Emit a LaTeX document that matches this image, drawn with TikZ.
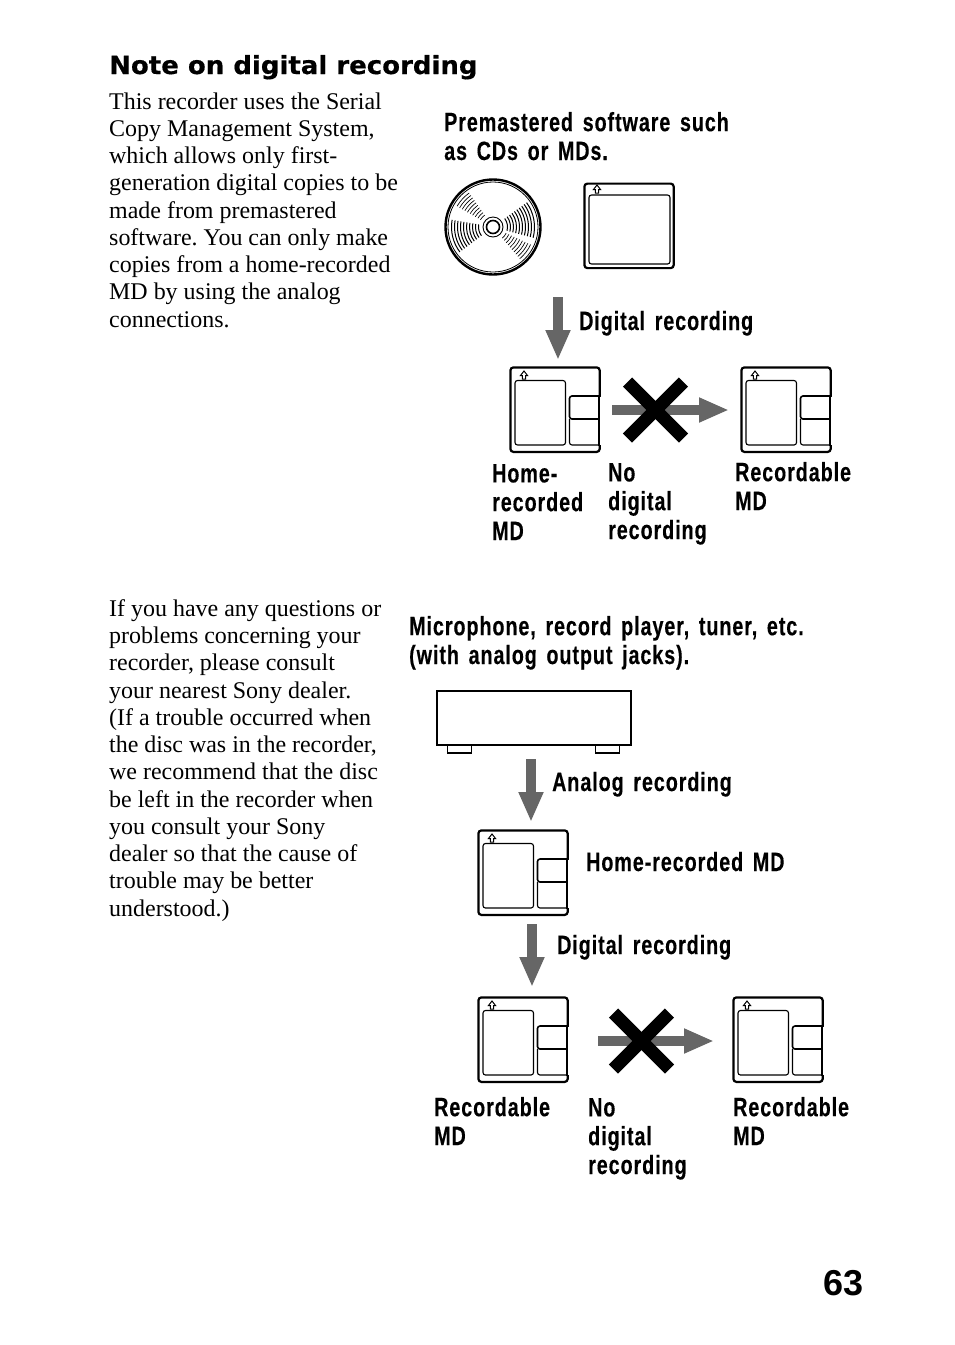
\documentclass[tikz,border=0pt]{standalone}
\usepackage{fontspec}
\usetikzlibrary{arrows.meta}
\setmainfont{Liberation Serif}
\newfontfamily\labelfont[FakeStretch=0.745,LetterSpace=3.5,FakeBold=0.25,WordSpace=1.5]{Liberation Sans Bold}
\newfontfamily\headfont[FakeStretch=1.04,FakeBold=0.5]{DejaVu Sans Bold}
\newfontfamily\pagefont{Liberation Sans Bold}
\frenchspacing
\tikzset{
  body/.style={anchor=base west,inner sep=0pt,align=left,font=\fontsize{23.95}{27.25}\selectfont,text=black},
  lab/.style={anchor=base west,inner sep=0pt,align=left,font=\labelfont\fontsize{26.5}{28.8}\selectfont,text=black},
  cardbox/.style={draw=black,line width=2.2pt,rounded corners=3pt,minimum width=89.3pt,minimum height=84.5pt,inner sep=0pt,anchor=north west},
  thinbox/.style={draw=black,line width=1.1pt,rounded corners=2.5pt},
  panebox/.style={draw=black,line width=1.6pt,rounded corners=2.5pt},
  upmark/.style={draw=black,line width=1pt,fill=white},
  blockarrow/.style={draw=arrowgray,line width=10pt,-{Triangle[length=30pt,width=23pt]}},
  crossmark/.style={draw=black,line width=13pt},
  devbox/.style={draw=black,line width=2pt,minimum width=193.5pt,minimum height=54pt,inner sep=0pt,anchor=north west},
  footbox/.style={draw=black,line width=1.5pt,minimum width=24pt,minimum height=7.5pt,inner sep=0pt,anchor=north west},
  cdrim/.style={draw=black,line width=2.4pt,circle,minimum size=95pt,inner sep=0pt},
  groove/.style={draw=black,line width=1pt},
  finegroove/.style={draw=black,line width=0.65pt}
}
\definecolor{arrowgray}{HTML}{666666}
\newcommand{\upsign}[2]{%
  \draw[upmark] (#1-3.5,#2+0.5) -- (#1,#2-4) -- (#1+3.5,#2+0.5) -- (#1+1.6,#2+0.5) -- (#1+1.6,#2+4) -- (#1-1.6,#2+4) -- (#1-1.6,#2+0.5) -- cycle;}
\newcommand{\mdcard}[3]{% name, left, top
  \node[cardbox] (#1) at (#2-0.7,#3-0.7) {};
  \upsign{#2+14}{#3+8}
  \draw[thinbox] (#2+5,#3+13.5) rectangle (#2+55.5,#3+78);
  \draw[line width=2pt,white] (#2+90.4,#3+29.5) -- (#2+90.4,#3+78);
  \draw[line width=1.1pt] (#2+89,#3+29) -- (#2+89,#3+79);
  \draw[panebox] (#2+89,#3+29) -- (#2+59.5,#3+29) -- (#2+59.5,#3+52) -- (#2+89,#3+52);
  \draw[thinbox] (#2+59.5,#3+52) -- (#2+59.5,#3+78) -- (#2+89,#3+78);
}
\newcommand{\nomove}[4]{% name prefix, x0, x1, y
  \coordinate (#1s) at (#2,#4);
  \coordinate (#1e) at (#3,#4);
  \draw[blockarrow] (#1s) -- (#1e);
  \coordinate (#1c) at (#2+43.5,#4);
  \draw[crossmark] ([shift={(-28,-28)}]#1c) -- ([shift={(28,28)}]#1c);
  \draw[crossmark] ([shift={(-28,28)}]#1c) -- ([shift={(28,-28)}]#1c);
}
\begin{document}
\begin{tikzpicture}[x=1pt,y=-1pt]
\useasboundingbox[fill=white] (0,0) rectangle (954,1345);
\node[anchor=base west,inner sep=0pt,font=\headfont\fontsize{25}{28}\selectfont] (head) at (109,74) {Note on digital recording};
\node[body] (para1) at (109,327) {This recorder uses the Serial\\Copy Management System,\\which allows only first-\\generation digital copies to be\\made from premastered\\software. You can only make\\copies from a home-recorded\\MD by using the analog\\connections.};
\node[body] (para2) at (109,916) {If you have any questions or\\problems concerning your\\recorder, please consult\\your nearest Sony dealer.\\(If a trouble occurred when\\the disc was in the recorder,\\we recommend that the disc\\be left in the recorder when\\you consult your Sony\\dealer so that the cause of\\trouble may be better\\understood.)};
\node[lab] (l1) at (444,160) {Premastered software such\\as CDs or MDs.};
\node[lab] (l2) at (579,330) {Digital recording};
\node[lab] (l3) at (492,540) {Home-\\recorded\\MD};
\node[lab] (l4) at (608,539) {No\\digital\\recording};
\node[lab] (l5) at (735,510) {Recordable\\MD};
\node[lab] (l6) at (409,664) {Microphone, record player, tuner, etc.\\(with analog output jacks).};
\node[lab] (l7) at (552,791) {Analog recording};
\node[lab] (l8) at (586,871) {Home-recorded MD};
\node[lab] (l9) at (557,954) {Digital recording};
\node[lab] (l10) at (434,1145) {Recordable\\MD};
\node[lab] (l11) at (588,1174) {No\\digital\\recording};
\node[lab] (l12) at (733,1145) {Recordable\\MD};
\node[anchor=base west,inner sep=0pt,font=\pagefont\fontsize{36}{40}\selectfont] (pg) at (823,1295) {63};
% CD
\node[cdrim] (cd) at (493,227) {};
\draw[line width=0.8pt] (cd) circle (45);
\foreach \r in {14.5,17.5,...,43} {
  \draw[groove] ([shift={(143:\r)}]cd.center) arc[start angle=143,end angle=190,radius=\r];
  \draw[groove] ([shift={(-36:\r)}]cd.center) arc[start angle=-36,end angle=15,radius=\r];
  \draw[finegroove] ([shift={(25:\r)}]cd.center) arc[start angle=25,end angle=50,radius=\r];
  \draw[finegroove] ([shift={(210:\r)}]cd.center) arc[start angle=210,end angle=235,radius=\r];
}
\draw[line width=0.9pt] (cd) circle (10);
\draw[line width=1.6pt,fill=white] (cd) circle (6.5);
% plain card
\node[cardbox] (mdp) at (583.3,182.5) {};
\upsign{597}{189}
\draw[thinbox] (589,195) rectangle (670,264);
% top group
\coordinate (a1s) at (558,297); \coordinate (a1e) at (558,360);
\draw[blockarrow] (a1s) -- (a1e);
\mdcard{md1}{510}{367}
\mdcard{md2}{741}{367}
\nomove{n1}{612}{729}{410}
% bottom group
\node[devbox] (dev) at (436.3,689.5) {};
\node[footbox] (f1) at (446.5,744.5) {};
\node[footbox] (f2) at (594.5,744.5) {};
\coordinate (a2s) at (531,759); \coordinate (a2e) at (531,822);
\draw[blockarrow] (a2s) -- (a2e);
\mdcard{md3}{478}{830}
\coordinate (a3s) at (532,924); \coordinate (a3e) at (532,987);
\draw[blockarrow] (a3s) -- (a3e);
\mdcard{md4}{478}{997}
\mdcard{md5}{733}{997}
\nomove{n2}{598}{714}{1041}
\end{tikzpicture}
\end{document}
